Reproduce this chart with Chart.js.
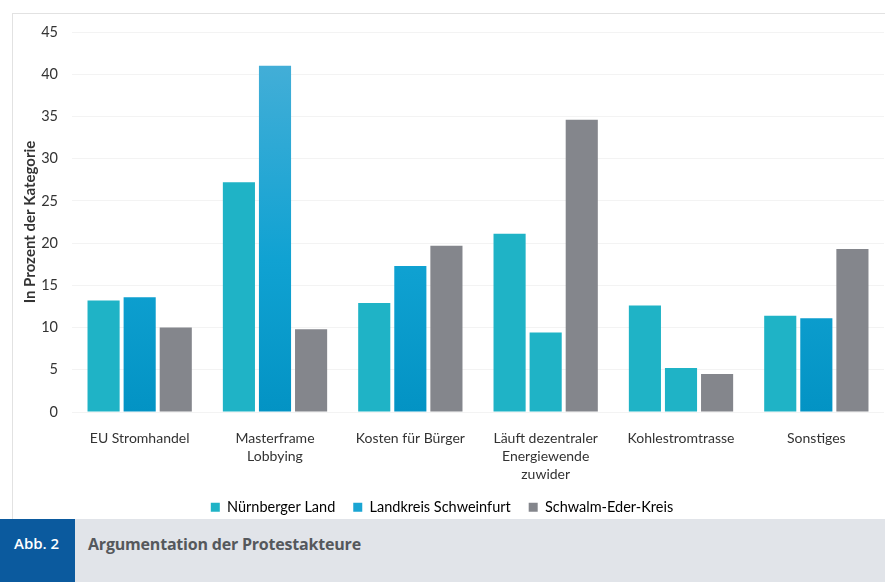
<!DOCTYPE html>
<html>
<head>
<meta charset="utf-8">
<script src="https://cdn.jsdelivr.net/npm/chart.js@4"></script>
<style>
  html, body { margin: 0; padding: 0; background: #fff; }
  #wrap { position: relative; width: 885px; height: 582px; overflow: hidden; }
  #panel { position: absolute; left: 12px; top: 13px; width: 880px; height: 520px; border: 1px solid #e2e2e2; background: #fff; }
  #chart { position: absolute; left: 0; top: 0; }
  #banner { position: absolute; left: 0; top: 519px; width: 885px; height: 63px; background: #e1e4e9; }
  #abb { position: absolute; left: 0; top: 0; width: 75px; height: 63px; background: #0b5a9e; color: #fff;
         font: 600 15px "Open Sans", sans-serif; }
  #abb span { position: absolute; left: 14px; top: 14px; }
  #title { position: absolute; left: 88px; top: 14px; color: #55585c;
           font: bold 16px "Open Sans", sans-serif; letter-spacing: -0.2px; }
</style>
</head>
<body>
<div id="wrap">
  <div id="panel"></div>
  <canvas id="chart" width="885" height="519"></canvas>
  <div id="banner">
    <div id="abb"><span>Abb. 2</span></div>
    <div id="title">Argumentation der Protestakteure</div>
  </div>
</div>
<script>
document.addEventListener("DOMContentLoaded", function() {
  const categories = [
    "EU Stromhandel",
    ["Masterframe", "Lobbying"],
    "Kosten für Bürger",
    ["Läuft dezentraler", "Energiewende", "zuwider"],
    "Kohlestromtrasse",
    "Sonstiges"
  ];
  const nuernberger = [13.2, 27.2, 12.9, 21.1, 12.6, 11.4];
  const schweinfurt = [13.6, 41.0, 17.3, 9.4, 5.2, 11.1];
  const schwalmEder = [10.0, 9.8, 19.7, 34.6, 4.5, 19.3];
  const yTicks = [0, 5, 10, 15, 20, 25, 30, 35, 40, 45];

  // in two groups the second bar is printed in the teal colour
  const tealBars = [false, false, false, true, true, false];

  const teal = '#1fb3c6';
  const grey = '#84868c';

  function blueFill(context) {
    const chart = context.chart;
    const area = chart.chartArea;
    if (!area) return '#0a9fcf';
    if (tealBars[context.dataIndex]) return teal;
    const g = chart.ctx.createLinearGradient(0, area.top, 0, area.bottom);
    g.addColorStop(0, '#4bb0d8');
    g.addColorStop(0.6, '#10a2d2');
    g.addColorStop(1, '#0393c4');
    return g;
  }

  const ctx = document.getElementById('chart').getContext('2d');
  const font = "Lato, 'Open Sans', sans-serif";

  new Chart(ctx, {
    type: 'bar',
    data: {
      labels: categories,
      datasets: [{
        label: 'Nürnberger Land',
        data: nuernberger,
        backgroundColor: teal
      }, {
        label: 'Landkreis Schweinfurt',
        data: schweinfurt,
        backgroundColor: blueFill
      }, {
        label: 'Schwalm-Eder-Kreis',
        data: schwalmEder,
        backgroundColor: grey
      }]
    },
    options: {
      responsive: false,
      animation: false,
      layout: { padding: { top: 32, right: 1, left: 0, bottom: 0 } },
      datasets: { bar: { categoryPercentage: 0.8, barPercentage: 0.89 } },
      plugins: {
        tooltip: { enabled: false },
        legend: {
          position: 'bottom',
          maxHeight: 37,
          labels: {
            boxWidth: 9,
            boxHeight: 9,
            padding: 18,
            color: '#333',
            font: { family: font, size: 14.5 },
            generateLabels: function(chart) {
              const cols = [teal, '#1aa5d3', grey];
              return chart.data.datasets.map(function(ds, i) {
                return { text: ds.label, fillStyle: cols[i], strokeStyle: cols[i], lineWidth: 0, datasetIndex: i };
              });
            }
          }
        }
      },
      scales: {
        x: {
          grid: { display: false },
          border: { display: false },
          ticks: {
            color: '#333',
            padding: 9,
            maxRotation: 0,
            autoSkip: false,
            font: { family: font, size: 14, lineHeight: 1.3 }
          },
          afterFit: function(scale) { scale.height = 70; }
        },
        y: {
          min: 0,
          max: 45,
          afterBuildTicks: function(scale) {
            scale.ticks = yTicks.map(function(v) { return { value: v }; });
          },
          grid: { color: '#f3f3f3', drawTicks: false },
          border: { display: false },
          ticks: {
            color: '#333',
            padding: 14,
            font: { family: font, size: 14.5 }
          },
          title: {
            display: true,
            text: 'In Prozent der Kategorie',
            color: '#333',
            padding: { top: 21, bottom: 0 },
            font: { family: font, size: 15, weight: 'bold' }
          },
          afterFit: function(scale) { scale.width = 72; }
        }
      }
    }
  });
});
</script>
</body>
</html>
